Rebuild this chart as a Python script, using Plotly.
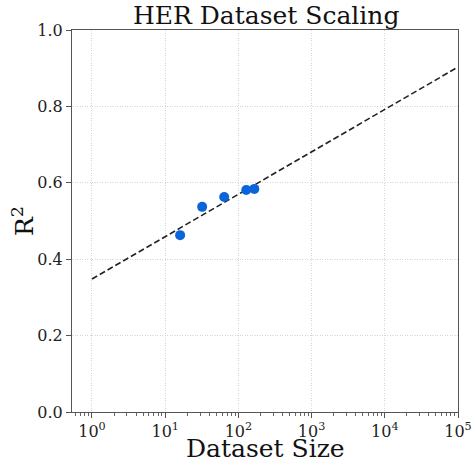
import plotly.graph_objects as go

dataset_size = [16, 32, 64, 128, 165]
r2 = [0.463, 0.537, 0.563, 0.581, 0.584]
fit_x = [1, 1e5]
fit_y = [0.348, 0.903]
xtick_vals = [1, 10, 100, 1000, 10000, 100000]
xtick_text = ["10<sup>0</sup>", "10<sup>1</sup>", "10<sup>2</sup>", "10<sup>3</sup>", "10<sup>4</sup>", "10<sup>5</sup>"]
ytick_vals = [0.0, 0.2, 0.4, 0.6, 0.8, 1.0]
ytick_text = ["0.0", "0.2", "0.4", "0.6", "0.8", "1.0"]

font = "DejaVu Serif"
fig = go.Figure()
fig.add_trace(go.Scatter(x=fit_x, y=fit_y, mode="lines",
                         line=dict(color="#222222", width=1.6, dash="6px,3px"),
                         showlegend=False))
fig.add_trace(go.Scatter(x=dataset_size, y=r2, mode="markers",
                         marker=dict(color="#0B64DA", size=10),
                         showlegend=False))
axis_common = dict(showline=True, linecolor="#555555", linewidth=1, mirror=True,
                   ticks="outside", ticklen=5, tickcolor="#555555",
                   showgrid=True, gridcolor="#d6d6d6", griddash="1px,1.5px", gridwidth=1,
                   zeroline=False, automargin=False,
                   tickfont=dict(family=font, size=16, color="#222222"))
fig.update_layout(
    width=474, height=457,
    margin=dict(l=72, r=16, t=30, b=45),
    plot_bgcolor="white", paper_bgcolor="white",
    xaxis=dict(type="log", range=[-0.273, 5], tickvals=xtick_vals, ticktext=xtick_text,
               minor=dict(ticks="outside", ticklen=2.5, tickcolor="#666666", dtick="D1", showgrid=False),
               **axis_common),
    yaxis=dict(range=[0, 1], tickvals=ytick_vals, ticktext=ytick_text, **axis_common),
    annotations=[
        dict(text="HER Dataset Scaling", xref="paper", yref="paper", x=0.503, y=1.037,
             xanchor="center", yanchor="middle", showarrow=False,
             font=dict(family=font, size=25, color="#111111")),
        dict(text="Dataset Size", xref="paper", yref="paper", x=0.5, y=-0.0955,
             xanchor="center", yanchor="middle", showarrow=False,
             font=dict(family=font, size=25, color="#111111")),
        dict(text="R<sup>2</sup>", xref="paper", yref="paper", x=-0.127, y=0.5,
             xanchor="center", yanchor="middle", showarrow=False, textangle=-90,
             font=dict(family=font, size=25, color="#111111")),
    ],
)
fig.write_html("out.html", config={"displayModeBar": False},
               post_script="document.body.style.margin='0';document.body.style.padding='0';")
